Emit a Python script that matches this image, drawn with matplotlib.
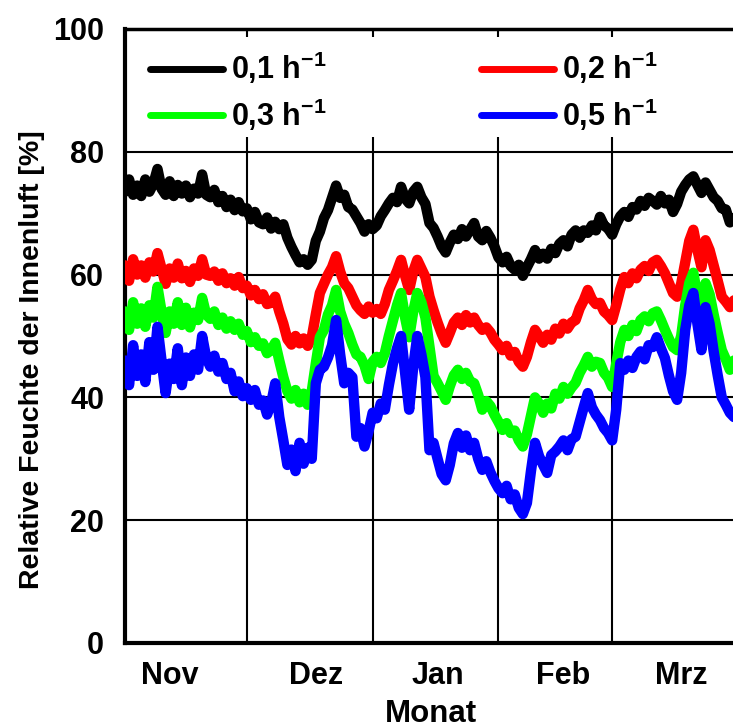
import datetime
import matplotlib
matplotlib.use("Agg")
import matplotlib.pyplot as plt
import matplotlib.dates as mdates
from matplotlib.patches import Rectangle

# relative Feuchte der Innenluft [%], ein Wert pro Tag ab 1. Nov
rh_01 = [73.5, 75.5, 73, 74.5, 72.8, 75.5, 73.5, 74.8, 77.2, 74,
         73, 75.2, 72.8, 74.6, 73.2, 74.5, 72.6, 74, 73.2, 76.3,
         73, 72.6, 73.8, 71.8, 72.8, 71, 72.2, 70.5, 71.8, 70.3,
         70.8, 69, 70.2, 68.5, 68.2, 69.3, 67.5, 68.6, 67.4, 68.2,
         66, 64.5, 63.2, 62, 62.5, 61.6, 62.4, 65.5, 67, 69.2,
         70.5, 72.5, 74.5, 72.5, 73, 71, 70.6, 69.5, 68.4, 67,
         68.2, 67.4, 68, 69.5, 70.5, 71.6, 72.5, 71.8, 74.3, 72.4,
         71.6, 73.5, 74.3, 72.6, 71.5, 68.4, 67.6, 66.2, 64.6, 63.6,
         65.2, 66.5, 65.8, 67.4, 66.2, 67.3, 68.4, 66.2, 65.6, 67.1,
         66, 64.6, 62.8, 62, 62.9, 61.4, 60.8, 61.6, 59.8, 61.2,
         62.5, 64, 62.6, 63.4, 62.6, 64.2, 63.5, 65, 65.6, 64.6,
         66.5, 67.2, 66, 67.2, 66.8, 68, 67.2, 69.4, 68, 67.5,
         66.5, 68.2, 69.5, 70.2, 69.4, 71, 70.6, 72, 71.2, 72.5,
         72, 71.4, 72.8, 71.6, 72.2, 70.2, 71.5, 73.5, 74.6, 75.5,
         76, 74.6, 73.3, 75, 73.8, 72.6, 72, 70.8, 70.6, 68.5,
         69.2]

rh_02 = [61.5, 59, 62.5, 60, 61.5, 59.5, 62, 60.5, 63.5, 61,
         58.5, 61, 59.5, 61.8, 59.4, 60.6, 58.8, 61, 59.8, 62.5,
         60, 59.8, 60.5, 59, 60.2, 58.6, 59.4, 58.2, 59.6, 57.8,
         58.2, 56.6, 57.5, 56, 56.8, 55.2, 55.4, 56.4, 54, 52,
         49.5, 48.6, 50, 48.8, 49.6, 48.4, 49.8, 53.5, 57, 58.5,
         60, 61.2, 63, 60.5, 58.6, 57.8, 56.4, 55, 54.2, 53.6,
         54.8, 53.8, 54.4, 53.6, 55.2, 57.5, 59, 60.6, 62.4, 59.8,
         57.5, 60.5, 62.4, 61, 59.6, 56.4, 54.2, 52.2, 50.4, 48.9,
         50.5, 52.2, 53, 51.8, 53.4, 52.2, 53, 51.8, 51, 51.4,
         50.6, 49.4, 48.6, 47.7, 48.4, 46.8, 47.4, 45.8, 45, 46.6,
         49, 51, 50, 48.9, 50.2, 49.4, 51.2, 50.4, 52, 51.2,
         52.2, 52.6, 54.5, 55.8, 57.5, 56, 55.2, 55.4, 54, 53.4,
         52.6, 55, 57.6, 59.6, 58.6, 60.2, 59.4, 60.8, 61.4, 60.6,
         62, 62.4, 61.4, 60.2, 58.6, 57, 56.4, 58.5, 62, 65.5,
         67.3, 64, 61.2, 65.6, 64, 61.5, 59, 56.4, 55.6, 54.7,
         55.8]

rh_03 = [54, 51, 55.5, 52, 54.5, 51.5, 55, 53, 58, 54,
         50.5, 54, 52, 55.5, 51.8, 54.6, 51.4, 53.8, 52.6, 56.2,
         53.5, 52.8, 54, 51.8, 53, 51.2, 52.4, 51, 52, 50.2,
         50.8, 49, 49.8, 48.4, 48.8, 47.2, 47.7, 48.9, 46, 43.3,
         41, 39.8, 41.2, 39.2, 40.6, 38.8, 41, 45.5, 49.8, 51,
         53.5, 55, 57.5, 54, 52, 50.5, 48.6, 47, 46.6, 45.2,
         43, 45.8, 46.6, 45.6, 47.2, 50, 52.5, 55, 57, 53,
         49.8, 54, 57, 55.5, 53, 48.2, 43.5, 42.3, 41, 39.6,
         41.8, 43.6, 44.5, 43, 44, 42.6, 42.3, 40.4, 38, 39.4,
         38.6, 37.2, 36, 34.7, 35.8, 34.2, 34.6, 33, 32, 34,
         37, 40, 39, 37.5, 39, 38.2, 40.6, 39.8, 41.7, 40.6,
         41.6, 42.4, 44, 45.2, 46.6, 45, 45.8, 45.6, 44, 43.2,
         41.7, 45.5, 49, 51, 50, 51.8, 50.8, 52.6, 53.2, 52.4,
         53.7, 54, 52.6, 51, 49.5, 48.2, 47.7, 50, 55, 58.6,
         60.3, 56.5, 53, 58.6, 56.8, 53.5, 50.5, 47.7, 46.2, 44.5,
         46]

rh_05 = [46, 42, 48.5, 43.5, 47, 42.5, 49, 44.5, 51.5, 46,
         40.7, 45.5, 43, 48, 42, 46.5, 43.5, 47, 44.5, 50,
         46.5, 45, 46.8, 44.2, 45.6, 43, 44, 41, 42.6, 40.2,
         41.5, 39.6, 41.2, 38.8, 39.5, 37.2, 39, 42.3, 36.8, 33,
         29, 31.5, 28, 32.6, 29.2, 31.8, 30, 42.3, 44.5, 45,
         46.5, 48.5, 52.6, 47, 42.3, 44, 43.3, 33.6, 35, 32,
         34.5, 37.5, 36.6, 39, 38, 42, 45.5, 48, 50, 44,
         38, 45, 50, 47, 43.3, 31.4, 32.6, 30, 27.5, 26.5,
         29, 32.5, 34.2, 31.8, 33.8, 31.4, 32.6, 30, 28.2, 29.6,
         27.8, 26.4, 25.2, 24.4, 25.6, 23.4, 24.2, 22, 21, 22.8,
         28, 32.6, 30.4, 29, 27.7, 30.6, 31.2, 32, 33, 31.4,
         33.2, 33.6, 36, 38.4, 40.7, 38.4, 37.2, 36.3, 35, 34.2,
         33, 38, 45.6, 44.5, 46, 44.8, 46.6, 47.5, 46.2, 48.5,
         48.2, 49.8, 48, 46.4, 43.5, 41, 39.6, 44, 51, 55,
         57, 52, 47.7, 54.7, 52, 47.5, 43.6, 40, 38.8, 37.5,
         36.8]

labels = ["0,1 h$^{-1}$", "0,2 h$^{-1}$", "0,3 h$^{-1}$", "0,5 h$^{-1}$"]
colors = ["#000000", "#ff0000", "#00ff00", "#0000ff"]
month_names = ["Nov", "Dez", "Jan", "Feb", "Mrz"]
month_label_days = [datetime.date(2012, 11, 12), datetime.date(2012, 12, 18),
                    datetime.date(2013, 1, 17), datetime.date(2013, 2, 17),
                    datetime.date(2013, 3, 18)]

plt.rcParams["font.family"] = ["Liberation Sans", "DejaVu Sans"]
plt.rcParams["font.weight"] = "bold"
plt.rcParams["mathtext.fontset"] = "custom"
plt.rcParams["mathtext.rm"] = "Liberation Sans:bold"
plt.rcParams["mathtext.bf"] = "Liberation Sans:bold"

start = datetime.date(2012, 11, 1)
days = [start + datetime.timedelta(days=i) for i in range(len(rh_01))]

fig = plt.figure(figsize=(7.33, 7.28), dpi=100)
ax = fig.add_axes([125 / 733, 85 / 728, 613 / 733, 614 / 728])

lines = []
for ser, lab, col in zip([rh_01, rh_02, rh_03, rh_05], labels, colors):
    ln, = ax.plot(days, ser, color=col, lw=7.5, label=lab, zorder=3,
                  solid_capstyle="round", solid_joinstyle="round")
    lines.append(ln)

ax.set_xlim(datetime.date(2012, 11, 1), datetime.date(2013, 4, 1))
ax.set_ylim(0, 100)
ax.set_yticks([0, 20, 40, 60, 80, 100])

ax.xaxis.set_major_locator(mdates.MonthLocator())
ax.xaxis.set_major_formatter(plt.NullFormatter())
ax.set_xticks(month_label_days, month_names, minor=True)
ax.tick_params(axis="x", which="both", length=0, labelsize=22, pad=13)
ax.tick_params(axis="y", length=0, labelsize=22, pad=15)

ax.set_axisbelow(True)
ax.grid(True, which="major", color="black", lw=1.5)

# white area behind the legend hides the grid
ax.add_patch(Rectangle((0, 0.824), 1, 0.163, transform=ax.transAxes,
                       facecolor="white", edgecolor="none", zorder=1))

for side in ["left", "bottom"]:
    ax.spines[side].set_linewidth(3)
ax.spines["top"].set_linewidth(2.5)
ax.spines["right"].set_linewidth(2.5)

order = [0, 2, 1, 3]
leg = ax.legend([lines[i] for i in order], [labels[i] for i in order], ncol=2,
                loc="upper left", bbox_to_anchor=(25 / 613, (643 - 50) / 614),
                frameon=False, fontsize=22, handlelength=2.4, handletextpad=0.25,
                columnspacing=5.05, labelspacing=0.33, borderpad=0, borderaxespad=0)
for hl in leg.get_lines():
    hl.set_linewidth(5)

fig.text(32 / 733, 1 - 360 / 728, "Relative Feuchte der Innenluft [%]",
         rotation=90, ha="center", va="center", fontsize=20.5, fontweight="bold")
fig.text(431 / 733, 1 - 714 / 728, "Monat", ha="center", va="center",
         fontsize=22.5, fontweight="bold")

fig.savefig("out.png", dpi=100)
